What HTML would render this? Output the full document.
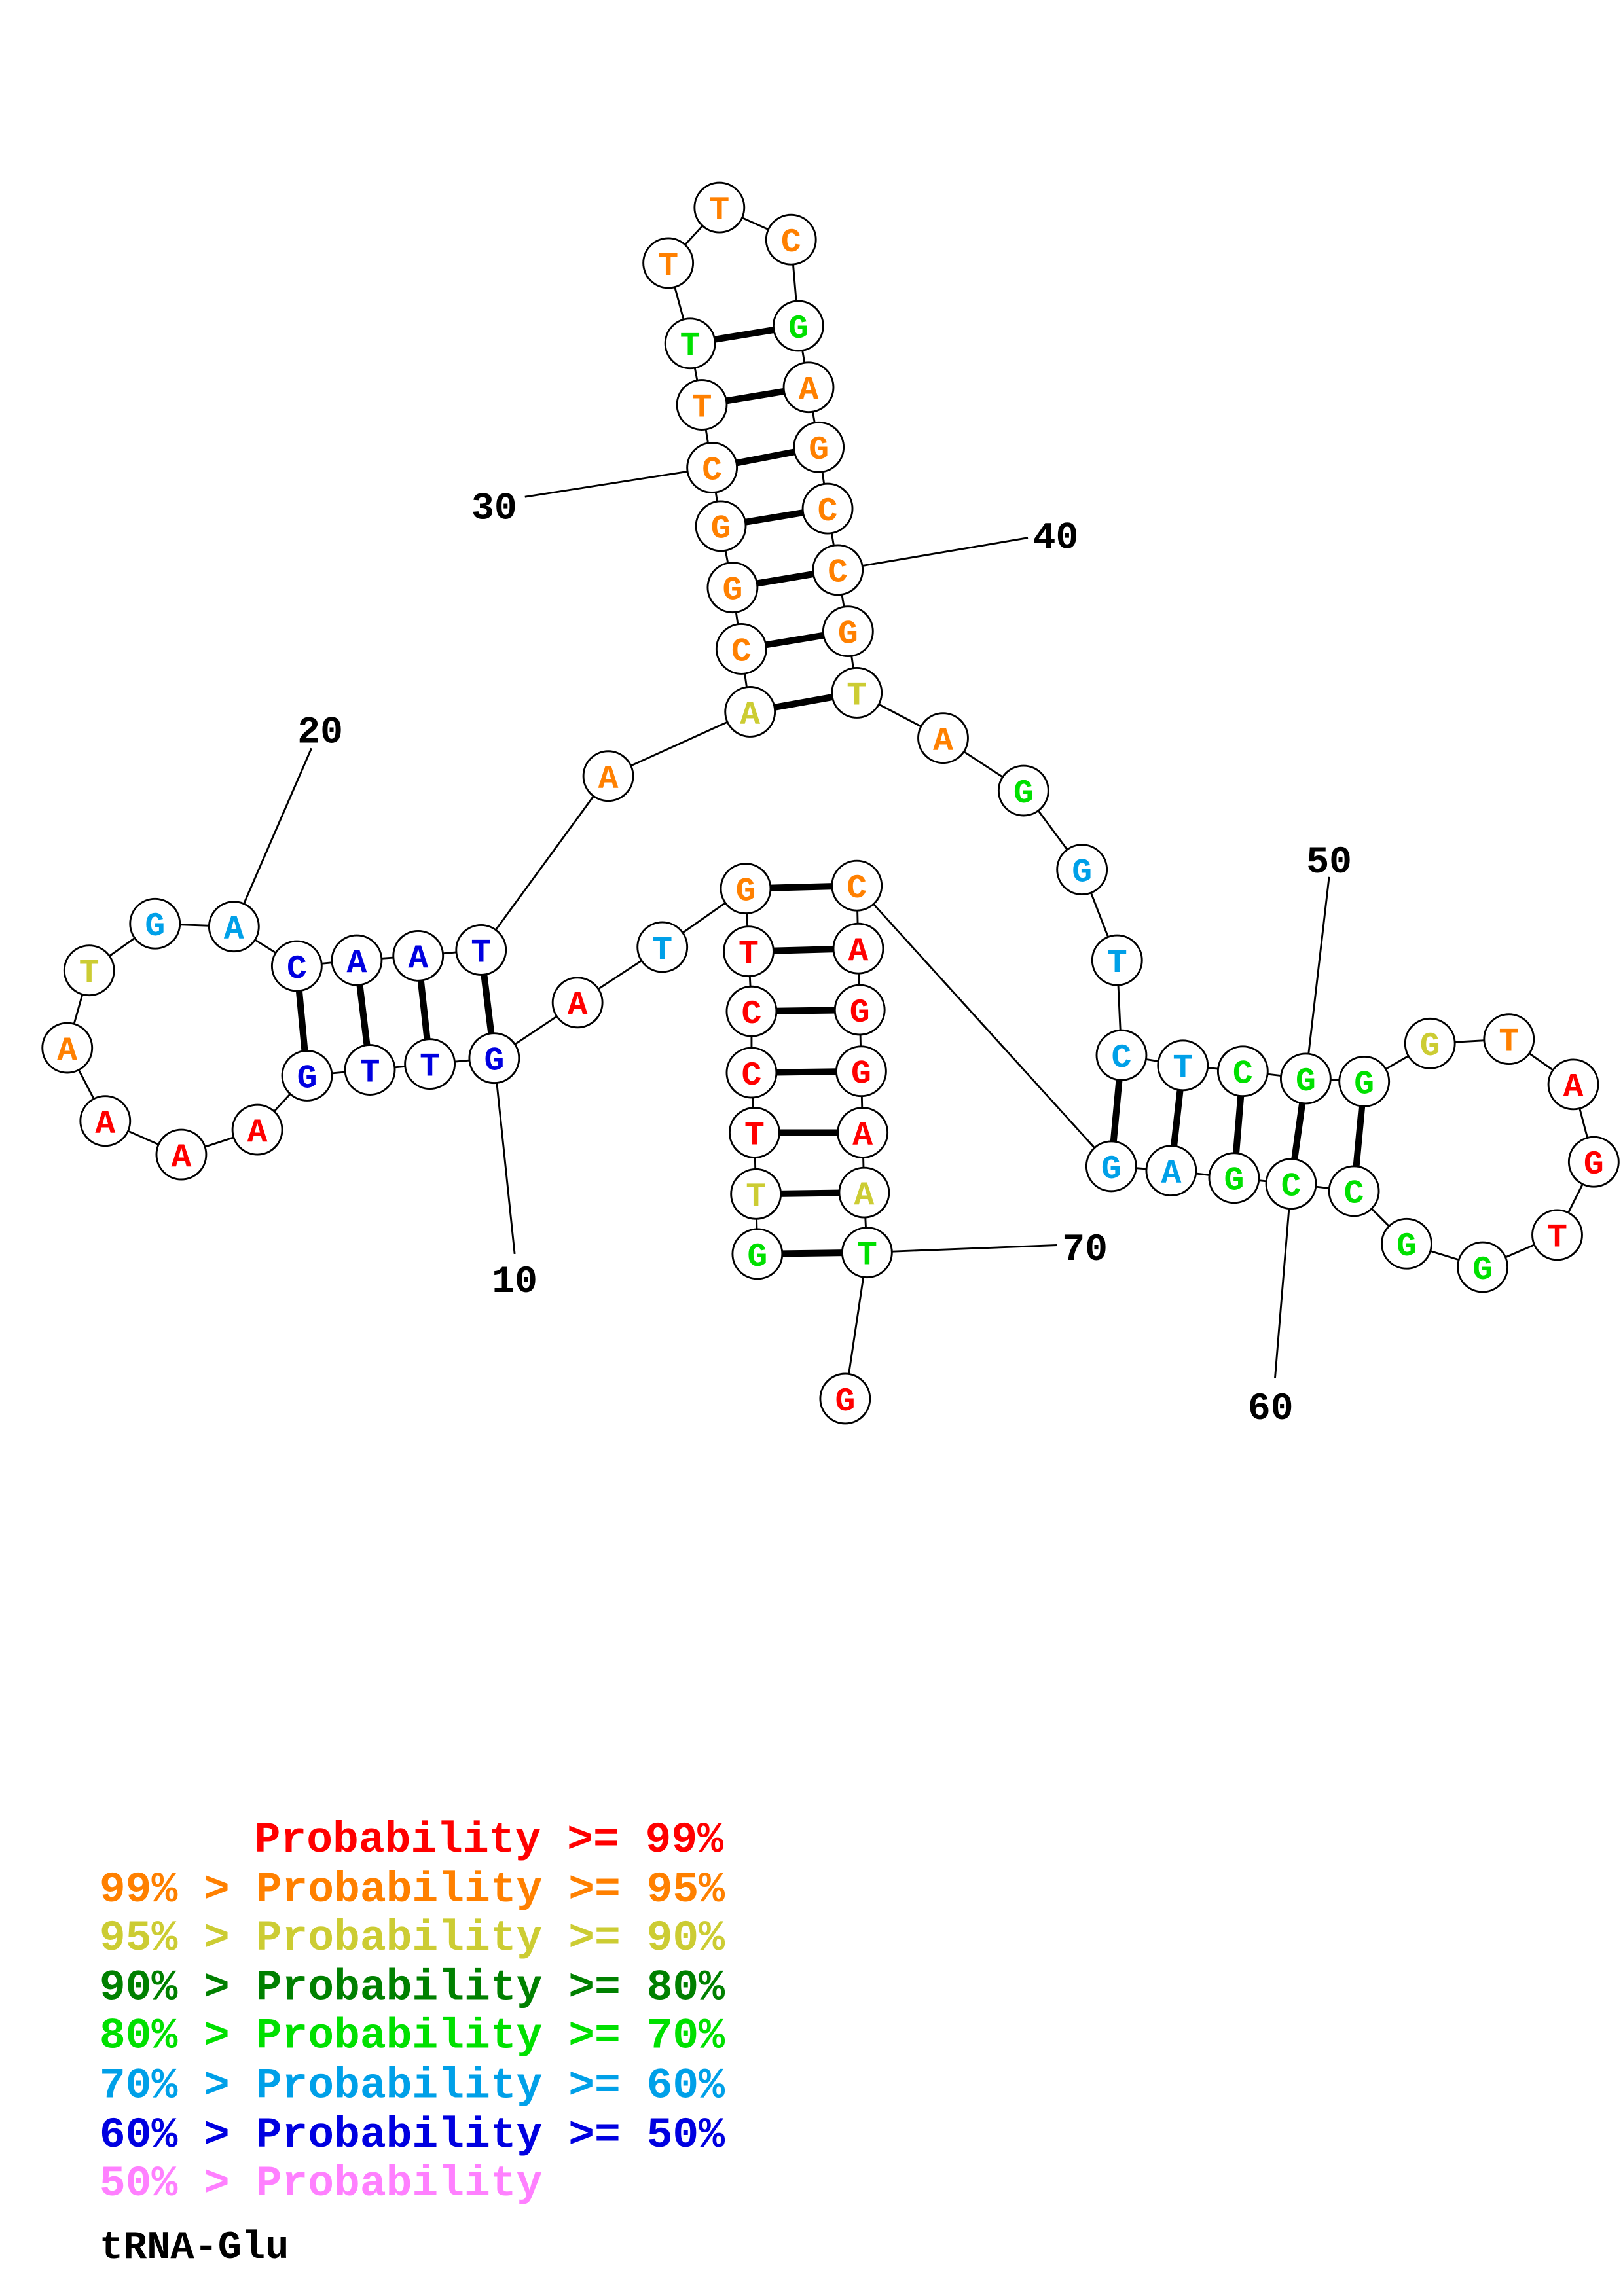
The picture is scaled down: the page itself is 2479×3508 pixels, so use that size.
<!DOCTYPE html>
<html><head><meta charset="utf-8"><style>html,body{margin:0;padding:0;background:#fff}svg{display:block}</style></head><body>
<svg width="2479" height="3508" viewBox="0 0 1110 1571" preserveAspectRatio="none" xmlns="http://www.w3.org/2000/svg">
<rect width="1110" height="1571" fill="#fff"/>
<g stroke="#000" stroke-width="1.3" fill="none">
<polyline points="518,858 517,817 516,775 514,734 514,692 512,651 510,608 453,648 395,686 338,724 294,728 253,732 210,736 176,773 124,790 72,767 46,717 61,664 106,632 160,634 203,661 244,657 286,654 329,650 416,531 513,487 507,444 501,402 493,360 487,320 480,277 472,235 457,180 492,142 541,164 546,223 553,265 560,306 566,348 573,390 580,432 586,474 645,505 700,541 740,595 764,657 767,722 809,729 850,733 893,738 933,740 978,714 1032,711 1076,742 1090,795 1065,845 1014,867 962,851 926,815 883,810 844,806 801,801 760,798 586,606 587,649 588,691 589,733 590,775 591,816 593,857 578,957"/>
<line x1="338" y1="724" x2="352" y2="858"/>
<line x1="160" y1="634" x2="213" y2="512"/>
<line x1="487" y1="320" x2="359" y2="340"/>
<line x1="573" y1="390" x2="703" y2="368"/>
<line x1="893" y1="738" x2="909" y2="600"/>
<line x1="883" y1="810" x2="872" y2="943"/>
<line x1="593" y1="857" x2="723" y2="852"/>
</g>
<g stroke="#000" stroke-width="4.5">
<line x1="510" y1="608" x2="586" y2="606"/><line x1="512" y1="651" x2="587" y2="649"/><line x1="514" y1="692" x2="588" y2="691"/><line x1="514" y1="734" x2="589" y2="733"/><line x1="516" y1="775" x2="590" y2="775"/><line x1="517" y1="817" x2="591" y2="816"/><line x1="518" y1="858" x2="593" y2="857"/>
<line x1="203" y1="661" x2="210" y2="736"/><line x1="244" y1="657" x2="253" y2="732"/><line x1="286" y1="654" x2="294" y2="728"/><line x1="329" y1="650" x2="338" y2="724"/>
<line x1="472" y1="235" x2="546" y2="223"/><line x1="480" y1="277" x2="553" y2="265"/><line x1="487" y1="320" x2="560" y2="306"/><line x1="493" y1="360" x2="566" y2="348"/><line x1="501" y1="402" x2="573" y2="390"/><line x1="507" y1="444" x2="580" y2="432"/><line x1="513" y1="487" x2="586" y2="474"/>
<line x1="767" y1="722" x2="760" y2="798"/><line x1="809" y1="729" x2="801" y2="801"/><line x1="850" y1="733" x2="844" y2="806"/><line x1="893" y1="738" x2="883" y2="810"/><line x1="933" y1="740" x2="926" y2="815"/>
</g>
<g font-family="Liberation Mono, monospace" font-weight="bold" font-size="26" fill="#000" text-anchor="middle">
<text x="352" y="884">10</text><text x="219" y="508">20</text><text x="338" y="355">30</text><text x="722" y="375">40</text><text x="909" y="597">50</text><text x="869" y="971">60</text><text x="742" y="862">70</text>
</g>
<g font-family="Liberation Mono, monospace" font-weight="bold" font-size="29.7">
<text x="174" y="1267" fill="#ff0000">Probability &gt;= 99%</text>
<text x="68" y="1301" fill="#ff8000">99% &gt; Probability &gt;= 95%</text>
<text x="68" y="1334" fill="#cccc33">95% &gt; Probability &gt;= 90%</text>
<text x="68" y="1368" fill="#008000">90% &gt; Probability &gt;= 80%</text>
<text x="68" y="1401" fill="#00e000">80% &gt; Probability &gt;= 70%</text>
<text x="68" y="1435" fill="#00a0e8">70% &gt; Probability &gt;= 60%</text>
<text x="68" y="1469" fill="#0000e0">60% &gt; Probability &gt;= 50%</text>
<text x="68" y="1502" fill="#ff80ff">50% &gt; Probability</text>
<text x="68" y="1545" fill="#000" font-size="27">tRNA-Glu</text>
</g>
<g font-family="Liberation Mono, monospace" font-weight="bold" font-size="23" text-anchor="middle" stroke-width="1.3">
<g fill="#fff" stroke="#000">
<circle cx="518" cy="858" r="17"/><circle cx="517" cy="817" r="17"/><circle cx="516" cy="775" r="17"/><circle cx="514" cy="734" r="17"/><circle cx="514" cy="692" r="17"/><circle cx="512" cy="651" r="17"/><circle cx="510" cy="608" r="17"/><circle cx="453" cy="648" r="17"/><circle cx="395" cy="686" r="17"/><circle cx="338" cy="724" r="17"/><circle cx="294" cy="728" r="17"/><circle cx="253" cy="732" r="17"/><circle cx="210" cy="736" r="17"/><circle cx="176" cy="773" r="17"/><circle cx="124" cy="790" r="17"/><circle cx="72" cy="767" r="17"/><circle cx="46" cy="717" r="17"/><circle cx="61" cy="664" r="17"/><circle cx="106" cy="632" r="17"/><circle cx="160" cy="634" r="17"/><circle cx="203" cy="661" r="17"/><circle cx="244" cy="657" r="17"/><circle cx="286" cy="654" r="17"/><circle cx="329" cy="650" r="17"/><circle cx="416" cy="531" r="17"/><circle cx="513" cy="487" r="17"/><circle cx="507" cy="444" r="17"/><circle cx="501" cy="402" r="17"/><circle cx="493" cy="360" r="17"/><circle cx="487" cy="320" r="17"/><circle cx="480" cy="277" r="17"/><circle cx="472" cy="235" r="17"/><circle cx="457" cy="180" r="17"/><circle cx="492" cy="142" r="17"/><circle cx="541" cy="164" r="17"/><circle cx="546" cy="223" r="17"/><circle cx="553" cy="265" r="17"/><circle cx="560" cy="306" r="17"/><circle cx="566" cy="348" r="17"/><circle cx="573" cy="390" r="17"/><circle cx="580" cy="432" r="17"/><circle cx="586" cy="474" r="17"/><circle cx="645" cy="505" r="17"/><circle cx="700" cy="541" r="17"/><circle cx="740" cy="595" r="17"/><circle cx="764" cy="657" r="17"/><circle cx="767" cy="722" r="17"/><circle cx="809" cy="729" r="17"/><circle cx="850" cy="733" r="17"/><circle cx="893" cy="738" r="17"/><circle cx="933" cy="740" r="17"/><circle cx="978" cy="714" r="17"/><circle cx="1032" cy="711" r="17"/><circle cx="1076" cy="742" r="17"/><circle cx="1090" cy="795" r="17"/><circle cx="1065" cy="845" r="17"/><circle cx="1014" cy="867" r="17"/><circle cx="962" cy="851" r="17"/><circle cx="926" cy="815" r="17"/><circle cx="883" cy="810" r="17"/><circle cx="844" cy="806" r="17"/><circle cx="801" cy="801" r="17"/><circle cx="760" cy="798" r="17"/><circle cx="586" cy="606" r="17"/><circle cx="587" cy="649" r="17"/><circle cx="588" cy="691" r="17"/><circle cx="589" cy="733" r="17"/><circle cx="590" cy="775" r="17"/><circle cx="591" cy="816" r="17"/><circle cx="593" cy="857" r="17"/><circle cx="578" cy="957" r="17"/>
</g>
<g fill="#ff0000">
<text x="512" y="659">T</text><text x="514" y="700">C</text><text x="514" y="742">C</text><text x="516" y="783">T</text><text x="395" y="694">A</text><text x="176" y="781">A</text><text x="124" y="798">A</text><text x="72" y="775">A</text><text x="1076" y="750">A</text><text x="1090" y="803">G</text><text x="1065" y="853">T</text><text x="587" y="657">A</text><text x="588" y="699">G</text><text x="589" y="741">G</text><text x="590" y="783">A</text><text x="578" y="965">G</text>
</g>
<g fill="#ff8000">
<text x="510" y="616">G</text><text x="46" y="725">A</text><text x="416" y="539">A</text><text x="507" y="452">C</text><text x="501" y="410">G</text><text x="493" y="368">G</text><text x="487" y="328">C</text><text x="480" y="285">T</text><text x="457" y="188">T</text><text x="492" y="150">T</text><text x="541" y="172">C</text><text x="553" y="273">A</text><text x="560" y="314">G</text><text x="566" y="356">C</text><text x="573" y="398">C</text><text x="580" y="440">G</text><text x="645" y="513">A</text><text x="1032" y="719">T</text><text x="586" y="614">C</text>
</g>
<g fill="#cccc33">
<text x="517" y="825">T</text><text x="61" y="672">T</text><text x="513" y="495">A</text><text x="586" y="482">T</text><text x="978" y="722">G</text><text x="591" y="824">A</text>
</g>
<g fill="#00e000">
<text x="518" y="866">G</text><text x="472" y="243">T</text><text x="546" y="231">G</text><text x="700" y="549">G</text><text x="850" y="741">C</text><text x="893" y="746">G</text><text x="933" y="748">G</text><text x="1014" y="875">G</text><text x="962" y="859">G</text><text x="926" y="823">C</text><text x="883" y="818">C</text><text x="844" y="814">G</text><text x="593" y="865">T</text>
</g>
<g fill="#00a0e8">
<text x="453" y="656">T</text><text x="106" y="640">G</text><text x="160" y="642">A</text><text x="740" y="603">G</text><text x="764" y="665">T</text><text x="767" y="730">C</text><text x="809" y="737">T</text><text x="801" y="809">A</text><text x="760" y="806">G</text>
</g>
<g fill="#0000e0">
<text x="338" y="732">G</text><text x="294" y="736">T</text><text x="253" y="740">T</text><text x="210" y="744">G</text><text x="203" y="669">C</text><text x="244" y="665">A</text><text x="286" y="662">A</text><text x="329" y="658">T</text>
</g>
</g>
</svg>
</body></html>
